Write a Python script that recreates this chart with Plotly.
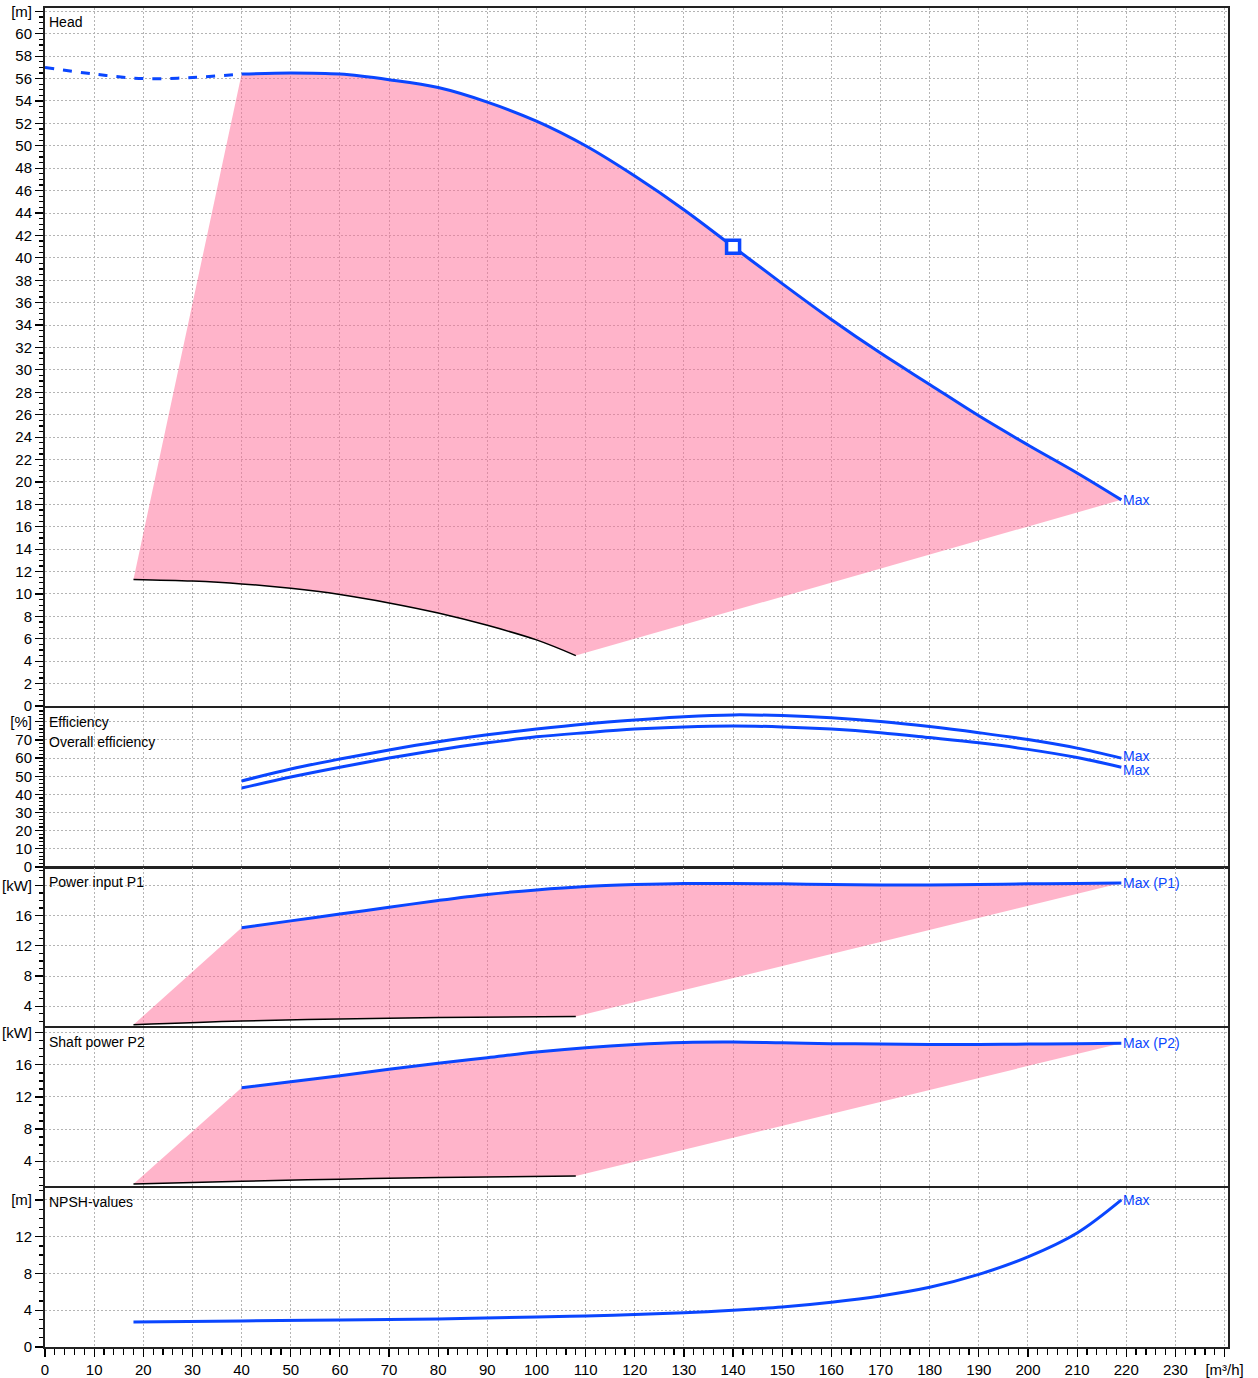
import plotly.graph_objects as go
from plotly.subplots import make_subplots

# ---------------- data ----------------
head_q = [0, 10, 20, 30, 40, 50, 60, 70, 80, 90, 100, 110, 120, 130, 140, 150, 160, 170, 180, 190, 200, 210, 219]
head_h = [57.0, 56.4, 56.0, 56.1, 56.4, 56.5, 56.4, 55.9, 55.2, 53.9, 52.2, 50.0, 47.3, 44.3, 41.0, 37.7, 34.5, 31.5, 28.7, 25.9, 23.3, 20.8, 18.4]
head_min_q = [18, 30, 40, 50, 60, 70, 80, 90, 100, 108]
head_min_h = [11.3, 11.15, 10.9, 10.5, 9.95, 9.2, 8.3, 7.2, 5.9, 4.5]
duty_q = [140]
duty_h = [41.0]

eff_q = [40, 50, 60, 70, 80, 90, 100, 110, 120, 130, 140, 150, 160, 170, 180, 190, 200, 210, 219]
eff_pump = [47.4, 54.0, 59.5, 64.5, 69.0, 72.8, 76.0, 78.8, 81.0, 82.8, 83.8, 83.4, 82.2, 80.2, 77.4, 74.0, 70.2, 65.5, 60.0]
eff_total = [43.5, 49.6, 55.0, 60.0, 64.5, 68.4, 71.7, 74.0, 76.0, 77.2, 77.7, 77.2, 76.0, 74.0, 71.3, 68.4, 64.8, 60.3, 55.0]

p_q = [40, 50, 60, 70, 80, 90, 100, 110, 120, 130, 140, 150, 160, 170, 180, 190, 200, 210, 219]
p1 = [14.4, 15.3, 16.2, 17.1, 18.0, 18.8, 19.4, 19.85, 20.1, 20.25, 20.25, 20.2, 20.1, 20.05, 20.05, 20.1, 20.2, 20.25, 20.3]
p2 = [13.15, 13.9, 14.65, 15.45, 16.2, 16.9, 17.6, 18.15, 18.55, 18.8, 18.85, 18.75, 18.65, 18.6, 18.55, 18.55, 18.6, 18.65, 18.7]
pmin_q = [18, 40, 60, 80, 108]
p1_min = [1.55, 2.05, 2.3, 2.5, 2.65]
p2_min = [1.15, 1.5, 1.75, 1.95, 2.15]

npsh_q = [18, 40, 60, 80, 100, 110, 120, 130, 140, 150, 160, 170, 180, 190, 200, 210, 219]
npsh = [2.73, 2.84, 2.95, 3.05, 3.27, 3.38, 3.54, 3.72, 4.0, 4.36, 4.88, 5.56, 6.5, 7.9, 9.8, 12.4, 16.0]

x_ticks = list(range(0, 240, 10)) + [240]
x_labels = [str(v) for v in range(0, 240, 10)] + ["[m³/h]"]

# ---------------- style ----------------
BLUE = "#0a46ff"
PINK = "rgba(255,105,150,0.5)"
FONT = "Liberation Sans, Arial, sans-serif"
GRID = "#b4b4b4"
GDASH = "2px,2px"

fig = make_subplots(rows=5, cols=1, shared_xaxes=True, vertical_spacing=0.0)

def fill_poly(q, v, mq, mv):
    xs = [mq[0]] + list(q) + list(reversed(mq))
    ys = [mv[0]] + list(v) + list(reversed(mv))
    return xs, ys

def add_area(row, q, v, mq, mv):
    xs, ys = fill_poly(q, v, mq, mv)
    fig.add_trace(go.Scatter(x=xs, y=ys, fill="toself", fillcolor=PINK, mode="lines",
                             line=dict(width=0), hoverinfo="skip", showlegend=False), row=row, col=1)
    fig.add_trace(go.Scatter(x=mq, y=mv, mode="lines", line=dict(color="black", width=1.5, shape="spline"),
                             showlegend=False), row=row, col=1)

# Head
solid_q = [q for q in head_q if q >= 40]
solid_h = [h for q, h in zip(head_q, head_h) if q >= 40]
dash_q = [q for q in head_q if q <= 40]
dash_h = [h for q, h in zip(head_q, head_h) if q <= 40]
add_area(1, solid_q, solid_h, head_min_q, head_min_h)
fig.add_trace(go.Scatter(x=dash_q, y=dash_h, mode="lines",
                         line=dict(color=BLUE, width=3, dash="dash", shape="spline"), showlegend=False), row=1, col=1)
fig.add_trace(go.Scatter(x=solid_q, y=solid_h, mode="lines",
                         line=dict(color=BLUE, width=3, shape="spline"), showlegend=False), row=1, col=1)
fig.add_trace(go.Scatter(x=duty_q, y=duty_h, mode="markers",
                         marker=dict(symbol="square", size=13, color="white", line=dict(color=BLUE, width=3.5)),
                         showlegend=False), row=1, col=1)

# Efficiency
fig.add_trace(go.Scatter(x=eff_q, y=eff_pump, mode="lines", line=dict(color=BLUE, width=3, shape="spline"),
                         showlegend=False), row=2, col=1)
fig.add_trace(go.Scatter(x=eff_q, y=eff_total, mode="lines", line=dict(color=BLUE, width=3, shape="spline"),
                         showlegend=False), row=2, col=1)

# P1
add_area(3, p_q, p1, pmin_q, p1_min)
fig.add_trace(go.Scatter(x=p_q, y=p1, mode="lines", line=dict(color=BLUE, width=3, shape="spline"),
                         showlegend=False), row=3, col=1)
# P2
add_area(4, p_q, p2, pmin_q, p2_min)
fig.add_trace(go.Scatter(x=p_q, y=p2, mode="lines", line=dict(color=BLUE, width=3, shape="spline"),
                         showlegend=False), row=4, col=1)
# NPSH
fig.add_trace(go.Scatter(x=npsh_q, y=npsh, mode="lines", line=dict(color=BLUE, width=3, shape="spline"),
                         showlegend=False), row=5, col=1)

# ---------------- axes ----------------
W, H = 1258, 1378
PAGE_TOP, PAGE_BOT = 8, 1347
plot_h = PAGE_BOT - PAGE_TOP
def dom(top_px, bot_px):
    return [max(0, (PAGE_BOT - bot_px) / plot_h), min(1, (PAGE_BOT - top_px) / plot_h)]

panels = [
    (8, 706, [0, 62.3], list(range(0, 63, 2)), [str(v) for v in range(0, 61, 2)] + ["[m]"], 0.5),
    (708, 867, [0, 87.6], list(range(0, 81, 10)), [str(v) for v in range(0, 71, 10)] + ["[%]"], 2),
    (868, 1026, [1.38, 22.3], [4, 8, 12, 16, 20], ["4", "8", "12", "16", "[kW]"], 1),
    (1028, 1186, [0.9, 20.6], [4, 8, 12, 16, 20], ["4", "8", "12", "16", "[kW]"], 1),
    (1188, 1347, [0, 17.3], [0, 4, 8, 12, 16], ["0", "4", "8", "12", "[m]"], 1),
]

for i, (tp, bp, rng, tv, tt, mdt) in enumerate(panels, start=1):
    yname = "yaxis" if i == 1 else f"yaxis{i}"
    fig.layout[yname].update(
        domain=dom(tp, bp), range=rng, tickmode="array", tickvals=tv, ticktext=tt,
        ticks="outside", ticklen=8, tickwidth=1.2, tickcolor="black",
        showline=True, mirror=True, linecolor="#222", linewidth=2,
        showgrid=True, gridcolor=GRID, griddash=GDASH, gridwidth=1,
        zeroline=False, tickfont=dict(family=FONT, size=15, color="black"),
        minor=dict(tickmode="linear", tick0=0, dtick=mdt, ticks="outside", ticklen=4,
                   tickcolor="black", showgrid=False),
        automargin=False, fixedrange=True,
    )
    xname = "xaxis" if i == 1 else f"xaxis{i}"
    fig.layout[xname].update(
        range=[0, 240.7], tickmode="array", tickvals=x_ticks, ticktext=x_labels,
        showline=True, mirror=True, linecolor="#222", linewidth=2,
        showgrid=True, gridcolor=GRID, griddash=GDASH, gridwidth=1, zeroline=False,
        tickfont=dict(family=FONT, size=15, color="black"),
        showticklabels=(i == 5), ticks="outside" if i == 5 else "",
        ticklen=8, tickwidth=1.2, tickcolor="black",
        minor=dict(tickmode="linear", tick0=0, dtick=2, ticks="outside" if i == 5 else "",
                   ticklen=6, tickcolor="black", showgrid=False),
        automargin=False,
    )

# ---------------- annotations ----------------
def label(i, text, ypx_offset=0):
    xref = "x domain" if i == 1 else f"x{i} domain"
    yref = "y domain" if i == 1 else f"y{i} domain"
    fig.add_annotation(x=0.002, y=1, xref=xref, yref=yref, xanchor="left", yanchor="top",
                       yshift=-4 - ypx_offset, text=text, showarrow=False,
                       font=dict(family=FONT, size=14, color="black"))

label(1, "Head")
label(2, "Efficiency")
label(2, "Overall efficiency", 20)
label(3, "Power input P1")
label(4, "Shaft power P2")
label(5, "NPSH-values")

def maxlab(i, xv, yv, text, yshift=0):
    xref = "x" if i == 1 else f"x{i}"
    yref = "y" if i == 1 else f"y{i}"
    fig.add_annotation(x=xv, y=yv, xref=xref, yref=yref, xanchor="left", yanchor="middle",
                       xshift=0, yshift=yshift, text=text, showarrow=False,
                       font=dict(family=FONT, size=14, color=BLUE))

maxlab(1, head_q[-1], head_h[-1], "Max")
maxlab(2, eff_q[-1], eff_pump[-1], "Max", 2)
maxlab(2, eff_q[-1], eff_total[-1], "Max", -3)
maxlab(3, p_q[-1], p1[-1], "Max (P1)")
maxlab(4, p_q[-1], p2[-1], "Max (P2)")
maxlab(5, npsh_q[-1], npsh[-1], "Max")

fig.update_layout(
    width=W, height=H,
    margin=dict(l=45, r=W - 1228, t=PAGE_TOP, b=H - PAGE_BOT, autoexpand=False),
    paper_bgcolor="white", plot_bgcolor="white",
    showlegend=False, font=dict(family=FONT), hovermode=False,
)

fig.write_html("out.html", config={"displayModeBar": False, "staticPlot": True},
               post_script="document.body.style.margin='0px';")
